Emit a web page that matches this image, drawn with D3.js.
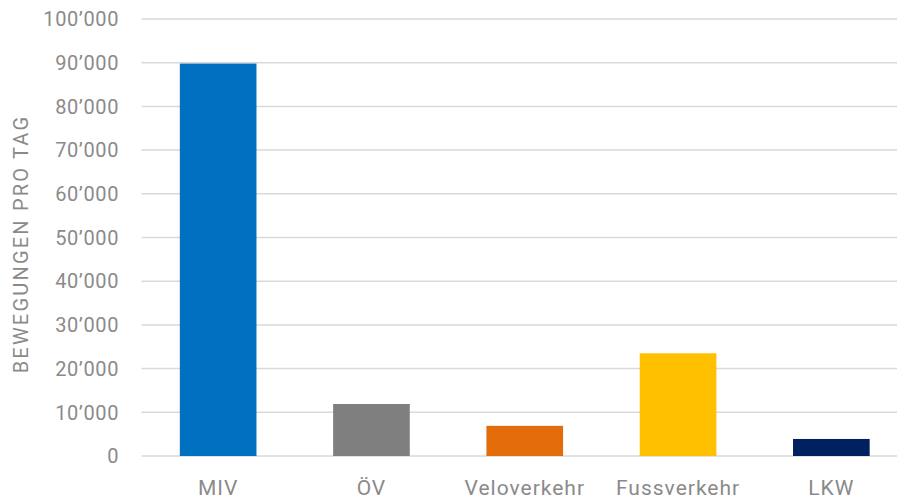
<!DOCTYPE html>
<html><head><meta charset="utf-8">
<script src="https://cdn.jsdelivr.net/npm/d3@7"></script>
<style>body{margin:0;background:#fff}svg{display:block}</style>
</head><body>
<svg id="c" width="897" height="500"></svg>
<script>
const categories = ["MIV", "ÖV", "Veloverkehr", "Fussverkehr", "LKW"];
const values = [89800, 11900, 6900, 23500, 3900];
const colors = ["#0070C0", "#7F7F7F", "#E36C0A", "#FFC000", "#002060"];
const yTicks = [0, 10000, 20000, 30000, 40000, 50000, 60000, 70000, 80000, 90000, 100000];
const yTitle = "BEWEGUNGEN PRO TAG";

const svg = d3.select("#c");
const pL = 141.5, pR = 908, pT = 19, pB = 456;
const x = d3.scaleBand().domain(categories).range([pL, pR]).paddingInner(0.5).paddingOuter(0.25);
const y = d3.scaleLinear().domain([0, 100000]).range([pB, pT]);
const fmt = v => v === 0 ? "0" : d3.format(",")(v).replace(/,/g, "’");
const font = "Roboto, sans-serif";
const gray = "#8a8a8a";

svg.append("g").selectAll("line").data(yTicks).join("line")
  .attr("x1", pL).attr("x2", 897)
  .attr("y1", d => y(d)).attr("y2", d => y(d))
  .attr("stroke", "#d9d9d9").attr("stroke-width", 1.5);

svg.append("g").selectAll("rect").data(categories).join("rect")
  .attr("x", d => x(d)).attr("width", x.bandwidth())
  .attr("y", (d, i) => y(values[i])).attr("height", (d, i) => y(0) - y(values[i]))
  .attr("fill", (d, i) => colors[i]);

svg.append("g").selectAll("text").data(yTicks).join("text")
  .attr("x", 119).attr("y", d => y(d)).attr("dy", "0.36em")
  .attr("text-anchor", "end").attr("font-family", font).attr("font-size", 20)
  .attr("letter-spacing", 0.6).attr("fill", gray).text(fmt);

svg.append("g").selectAll("text").data(categories).join("text")
  .attr("x", d => x(d) + x.bandwidth() / 2).attr("y", 495)
  .attr("text-anchor", "middle").attr("font-family", font).attr("font-size", 21)
  .attr("letter-spacing", 1.0).attr("fill", gray).text(d => d);

svg.append("text")
  .attr("transform", "translate(28,244) rotate(-90)")
  .attr("text-anchor", "middle").attr("font-family", font).attr("font-size", 20)
  .attr("letter-spacing", 2.2).attr("fill", gray).text(yTitle);
</script>
</body></html>
